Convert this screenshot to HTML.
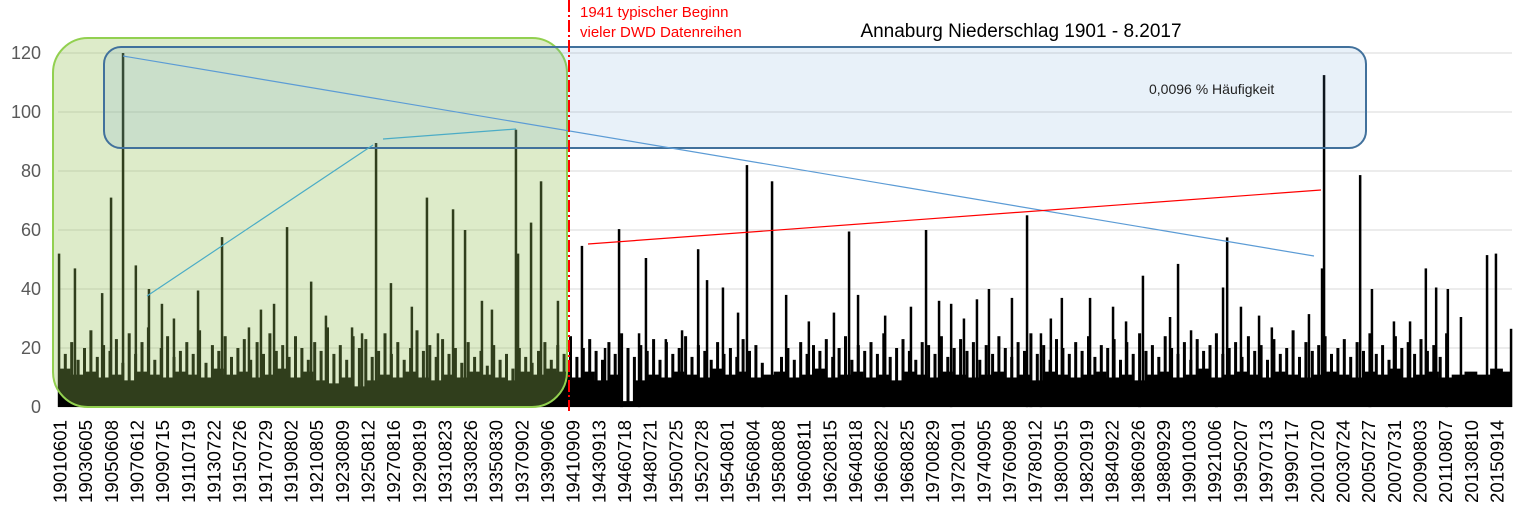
<!DOCTYPE html>
<html><head><meta charset="utf-8">
<style>
html,body{margin:0;padding:0;background:#fff;}
svg{display:block;font-family:"Liberation Sans",sans-serif;}
</style></head>
<body>
<svg id="chart" width="1519" height="511" viewBox="0 0 1519 511" xmlns="http://www.w3.org/2000/svg">
<g id="grid"></g>
<g id="yaxis"></g>
<g id="marks"></g>
<g id="overlays"></g>
<g id="xaxis"></g>
</svg>
<script>
const yTicks=[0,20,40,60,80,100,120];
const xLabels=["19010601","19030605","19050608","19070612","19090715","19110719","19130722","19150726","19170729","19190802","19210805","19230809","19250812","19270816","19290819","19310823","19330826","19350830","19370902","19390906","19410909","19430913","19460718","19480721","19500725","19520728","19540801","19560804","19580808","19600811","19620815","19640818","19660822","19680825","19700829","19720901","19740905","19760908","19780912","19800915","19820919","19840922","19860926","19880929","19901003","19921006","19950207","19970713","19990717","20010720","20030724","20050727","20070731","20090803","20110807","20130810","20150914"];
const spikePos=[-0.20,0.43,1.49,1.84,2.31,2.81,3.32,3.83,4.30,5.24,6.18,7.23,7.70,8.21,8.72,9.66,10.24,11.26,11.65,12.20,12.78,13.60,14.19,14.62,15.21,15.68,16.34,16.73,17.67,17.75,18.26,18.65,19.31,20.25,21.15,21.70,22.48,22.75,23.53,24.16,24.79,25.14,25.76,26.35,26.70,27.68,28.23,29.12,30.10,30.69,31.04,32.10,33.11,33.70,34.21,34.68,35.18,35.69,36.16,37.06,37.65,38.19,38.58,39.01,40.11,41.01,41.52,42.18,43.24,43.55,44.06,45.31,45.47,46.01,46.72,47.22,48.67,49.18,49.26,50.67,51.13,51.99,52.62,53.24,53.64,54.10,54.61,55.63,55.98,56.57];
const spikeVals=[52,47,38.6,71,120,48,40,35,30,39.5,57.6,27,33,35,61,42.5,31,27,25,89.5,42,34,71,25,67,60,36,33,94,52,62.5,76.5,36,54.6,20,60.3,25,50.5,23,26,53.5,43,40.5,32,82,76.5,38,29,32,59.5,38,31,34,60,36,35,30,36.5,40,37,65,25,30,37,37,34,29,44.5,30.5,48.5,26,40.5,57.5,34,31,27,31.5,47,112.5,78.6,40,29,29,47,40.5,40,30.5,51.5,52,26.5];
const bandVals=[13,11,12,10,11,9,12,11,10,12,11,10,13,11,12,10,11,13,10,12,
9,8,10,7,9,11,10,12,10,9,11,10,12,11,10,9,12,11,13,12,
10,12,9,11,2,9,11,10,12,11,10,13,11,12,10,11,12,10,11,13,
10,11,12,10,11,9,12,11,10,12,11,10,11,12,10,11,9,12,11,10,
11,12,10,11,9,11,12,10,11,13,10,11,12,11,10,12,11,10,11,12,
11,10,12,11,13,10,11,12,10,11,12,11,13,12];
const minorVals=[24,18,22,16,20,26,17,21,19,23,15,25,18,22,27,16,20,24,17,19,
22,18,26,15,21,19,24,17,20,23,16,22,18,25,19,21,17,24,20,16,
22,19,27,18,21,16,24,20,23,17,19,25,18,22,16,20,26,19,21,17,
23,18,20,15,22,17,19,14,21,16,18,13,20,17,15,19,22,16,21,18,
24,17,20,23,19,16,22,18,25,20,17,21,19,23,16,22,18,20,24,17,
21,19,16,22,18,20,17,23,19,21,15,8,6,17,20,16,22,18,21,19,
23,17,20,24,16,21,19,22,18,25,17,20,23,19,16,22,21,18,24,17,
20,23,19,22,16,21,18,24,20,17,22,19,25,18,21,16,23,20,18,22,
19,24,17,21,20,23,16,22,18,25,19,21,17,24,20,18,22,16,23,19,
21,25,18,20,22,17,24,19,21,16,23,18,20,26,17,22,19,21,24,18,
20,23,17,22,19,25,18,21,16,24,20,22,18,23,19,21,17,25];

const NS="http://www.w3.org/2000/svg";
const PL=58,PR=1512,Y0=407,Y120=53;
const yS=v=>Y0-(v/120)*(Y0-Y120);
const xS=i=>64+i*25.58;
function mk(tag,attrs,parent){const e=document.createElementNS(NS,tag);for(const k in attrs)e.setAttribute(k,attrs[k]);parent.appendChild(e);return e;}
const grid=document.getElementById('grid'),yax=document.getElementById('yaxis'),marks=document.getElementById('marks'),ov=document.getElementById('overlays'),xax=document.getElementById('xaxis');

yTicks.forEach(t=>{
  const l=mk('line',{x1:PL,x2:PR,y1:yS(t),y2:yS(t),stroke:'#d9d9d9','stroke-width':1},grid);
  
  
  const tx=mk('text',{x:41,y:yS(t)+6,'text-anchor':'end','font-size':18,fill:'#595959'},yax);
  tx.textContent=t;
  
  
});

let d='M'+PL+','+Y0;
bandVals.forEach((v,k)=>{const x0=Math.max(PL,xS(-0.25+k*0.5)),x1=Math.min(PR,xS(0.25+k*0.5));d+=' L'+x0.toFixed(1)+','+yS(v).toFixed(1)+' L'+x1.toFixed(1)+','+yS(v).toFixed(1);});
d+=' L'+PR+','+Y0+' Z';
const band=mk('path',{d:d,fill:'#000'},marks);



minorVals.forEach((v,k)=>{
  const x=xS(-0.2+k*0.25);
  if(x<PL+1||x>PR-1)return;
  const r=mk('rect',{x:(x-1.5).toFixed(1),y:yS(v).toFixed(1),width:3,height:(Y0-yS(v)).toFixed(1),fill:'#000'},marks);
  
  
});

spikePos.forEach((p,i)=>{
  const x=Math.max(PL+1,Math.min(PR-1,xS(p)));
  const r=mk('rect',{x:(x-1.25).toFixed(1),y:yS(spikeVals[i]).toFixed(1),width:2.5,height:(Y0-yS(spikeVals[i])).toFixed(1),fill:'#000'},marks);
  
  
});

let e;
e=mk('rect',{x:53,y:38,width:514,height:369,rx:35,ry:35,fill:'rgb(148,192,88)','fill-opacity':0.32,stroke:'#92d050','stroke-width':2},ov);


e=mk('rect',{x:104,y:47,width:1262,height:101,rx:17,ry:17,fill:'rgb(91,155,213)','fill-opacity':0.14,stroke:'#41719c','stroke-width':2},ov);


e=mk('line',{x1:123,y1:56,x2:1314,y2:256,stroke:'#5b9bd5','stroke-width':1.2},ov);


e=mk('polyline',{points:'147,296 373,145',fill:'none',stroke:'#4bacc6','stroke-width':1.2},ov);


e=mk('polyline',{points:'383,139 516,129',fill:'none',stroke:'#4bacc6','stroke-width':1.2},ov);


e=mk('line',{x1:588,y1:244,x2:1321,y2:190,stroke:'#ff0000','stroke-width':1.2},ov);


e=mk('line',{x1:569,y1:0,x2:569,y2:411,stroke:'#ff0000','stroke-width':2,'stroke-dasharray':'12,3,2,3'},ov);


e=mk('text',{x:580,y:17,'font-size':15,fill:'#ff0000'},ov);e.textContent='1941 typischer Beginn';


e=mk('text',{x:580,y:37,'font-size':15,fill:'#ff0000'},ov);e.textContent='vieler DWD Datenreihen';


e=mk('text',{x:1021,y:37,'font-size':19,'text-anchor':'middle',fill:'#000'},ov);e.textContent='Annaburg Niederschlag 1901 - 8.2017';


e=mk('text',{x:1149,y:94,'font-size':14,fill:'#222'},ov);e.textContent='0,0096 % Häufigkeit';



xLabels.forEach((s,i)=>{
  const x=60+i*(1497-60)/56;
  const t=mk('text',{x:0,y:0,'font-size':18,fill:'#000','text-anchor':'end',textLength:83,lengthAdjust:'spacingAndGlyphs',transform:'translate('+(x+6.5).toFixed(1)+',420) rotate(-90)'},xax);
  t.textContent=s;
  
  
});
</script>
</body></html>
